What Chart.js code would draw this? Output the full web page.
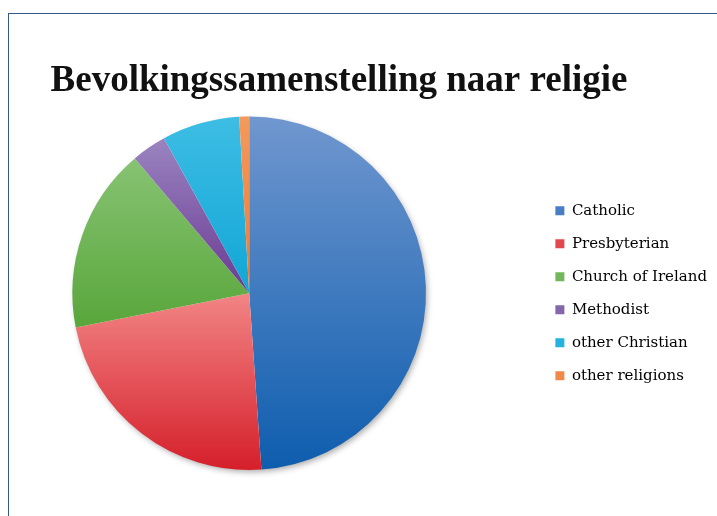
<!DOCTYPE html>
<html>
  <head>
    <title>Bevolkingssamenstelling naar religie</title>
    <style>
      html, body { margin: 0; padding: 0; background: #fff; overflow: hidden; }
      #frame {
        position: absolute; left: 8px; top: 13px; width: 800px; height: 600px;
        border: 1.5px solid #35598c; box-sizing: border-box;
      }
      #wrap { position: absolute; left: -39px; top: 0; width: 756px; height: 516px; }
    </style>
  </head>
  <body>
    <div id="frame"></div>
    <div id="wrap"><canvas id="religieChart"></canvas></div>

    <script src="https://cdn.jsdelivr.net/npm/chart.js"></script>
    <script>
      // Gegevens (aandeel in procenten)
      var categorieen = [
        "Catholic",
        "Presbyterian",
        "Church of Ireland",
        "Methodist",
        "other Christian",
        "other religions",
      ];
      var aandelen = [48.9, 23.0, 16.9, 3.2, 7.1, 0.9];

      // Kleuren: licht boven, donker onder, met begin/eind van de overgang
      var lichteKleuren = ["#7097cf", "#f28585", "#8ec77b", "#9c86c2", "#3dbde4", "#f39a5c"];
      var donkereKleuren = ["#0e5dae", "#d51f2b", "#58a63a", "#6a3a92", "#12a6d6", "#ee7a34"];
      var overgang = [[0, 1], [0.5, 1], [0.05, 0.6], [0.05, 0.5], [0, 0.5], [0, 0.5]];
      var legendaKleuren = ["#4a7ec4", "#e2474f", "#74b65a", "#8466ab", "#26b2de", "#f08a4b"];

      function verloop(context) {
        var chart = context.chart;
        var area = chart.chartArea;
        var i = context.dataIndex;
        if (!area) return lichteKleuren[i];
        var g = chart.ctx.createLinearGradient(0, area.top, 0, area.bottom);
        g.addColorStop(0, lichteKleuren[i]);
        g.addColorStop(overgang[i][0], lichteKleuren[i]);
        g.addColorStop(overgang[i][1], donkereKleuren[i]);
        g.addColorStop(1, donkereKleuren[i]);
        return g;
      }

      // zachte schaduw onder de taart
      var schaduw = {
        id: "schaduw",
        beforeDatasetsDraw: function (chart) {
          var arc = chart.getDatasetMeta(0).data[0];
          if (!arc) return;
          var ctx = chart.ctx;
          ctx.save();
          ctx.shadowColor = "rgba(0,0,0,0.35)";
          ctx.shadowBlur = 6;
          ctx.shadowOffsetX = 2;
          ctx.shadowOffsetY = 3;
          ctx.fillStyle = "#fff";
          ctx.beginPath();
          ctx.arc(arc.x, arc.y, arc.outerRadius - 1, 0, Math.PI * 2);
          ctx.fill();
          ctx.restore();
        },
      };

      new Chart(document.getElementById("religieChart"), {
        type: "pie",
        data: {
          labels: categorieen,
          datasets: [
            {
              data: aandelen,
              backgroundColor: verloop,
              borderWidth: 0,
            },
          ],
        },
        plugins: [schaduw],
        options: {
          responsive: true,
          maintainAspectRatio: false,
          animation: false,
          layout: {
            padding: { left: 0, right: 0, top: 0, bottom: 46 },
          },
          plugins: {
            tooltip: { enabled: false },
            title: {
              display: true,
              text: "Bevolkingssamenstelling naar religie",
              color: "#111",
              font: { family: "Liberation Serif", size: 37, weight: "bold" },
              padding: { top: 59, bottom: 13 },
            },
            legend: {
              position: "right",
              fullSize: false,
              labels: {
                boxWidth: 9,
                boxHeight: 9,
                padding: 18,
                color: "#111",
                font: { family: "DejaVu Serif", size: 15 },
                generateLabels: function (chart) {
                  return chart.data.labels.map(function (label, i) {
                    return {
                      text: label,
                      fillStyle: legendaKleuren[i],
                      strokeStyle: legendaKleuren[i],
                      lineWidth: 0,
                      hidden: false,
                      index: i,
                    };
                  });
                },
              },
            },
          },
        },
      });
    </script>
  </body>
</html>
